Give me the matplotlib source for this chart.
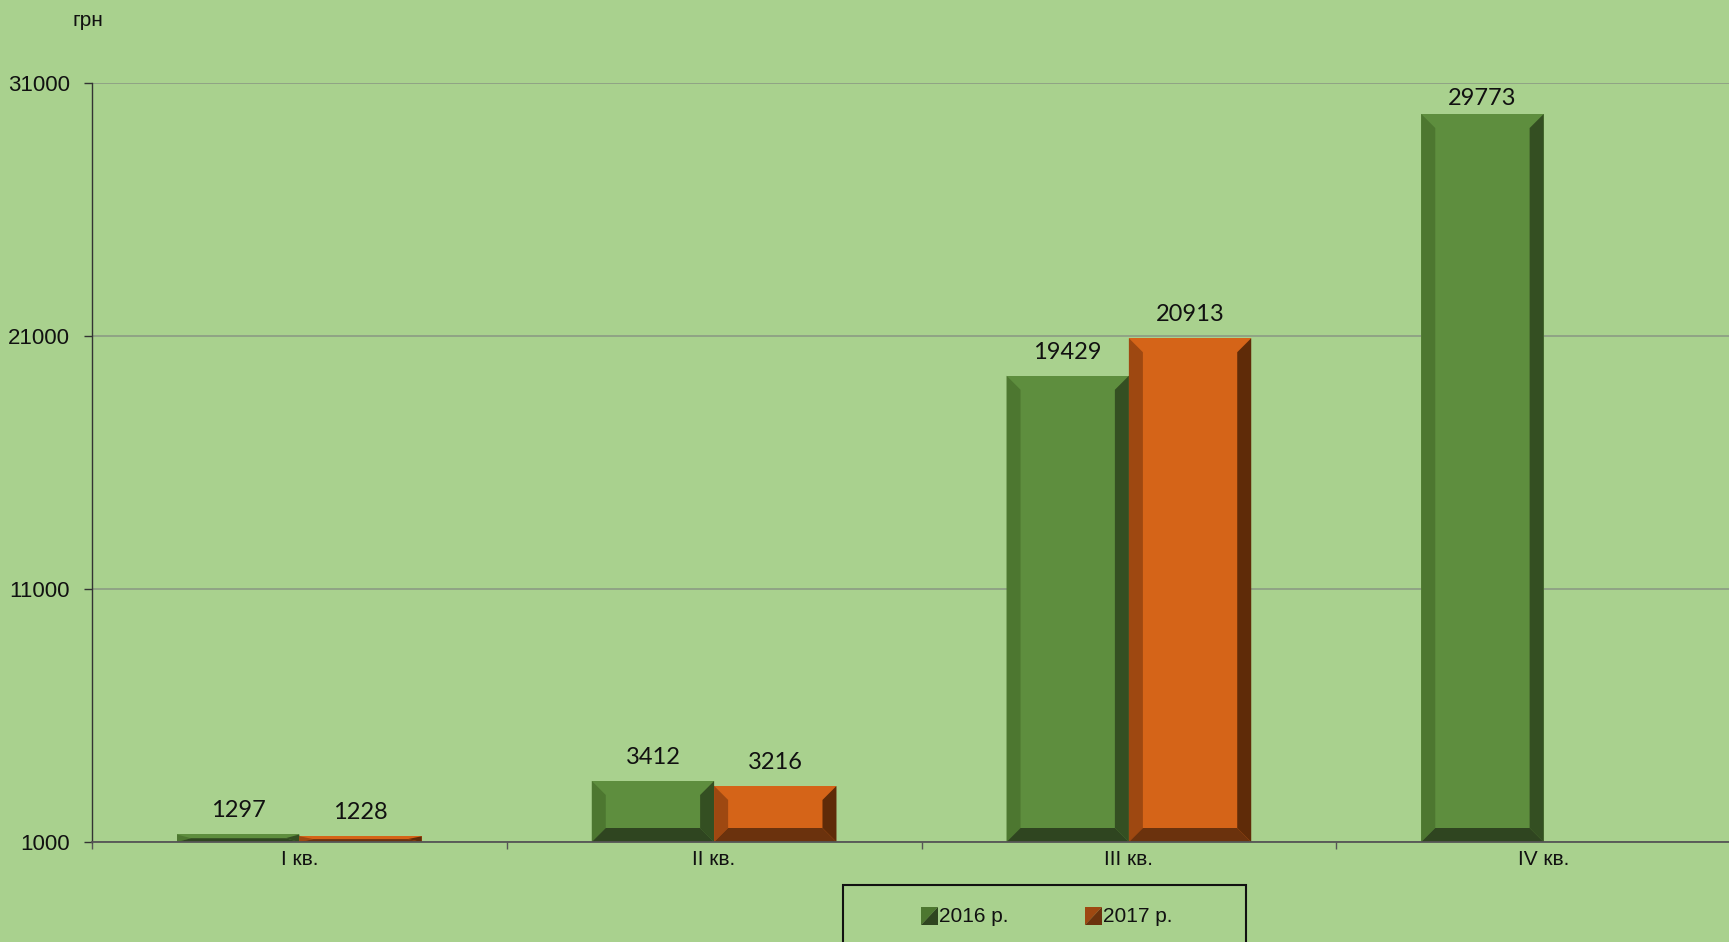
"""
Quarterly amounts (грн) for 2016 and 2017, bevelled bars in the Excel style.
"""
from matplotlib import pyplot as plt
from matplotlib.patches import Polygon, Rectangle

QUARTERS = ["I кв.", "II кв.", "III кв.", "IV кв."]
VALUES_2016 = [1297, 3412, 19429, 29773]
VALUES_2017 = [1228, 3216, 20913, None]
SERIES_NAMES = ["2016 р.", "2017 р."]
Y_TICKS = [1000, 11000, 21000, 31000]
Y_MIN, Y_MAX = 1000, 31000
UNIT_LABEL = "грн"

BACKGROUND = "#A9D18E"
GREEN = {"face": "#5E8E3E", "left": "#4D7730", "right": "#344F22", "bottom": "#2F4520"}
ORANGE = {"face": "#D56418", "left": "#9E4811", "right": "#5F2B08", "bottom": "#6B320D"}

W, H, DPI = 1729, 942, 100
# axes box in pixels (left, top, bottom); the right edge runs past the figure
AX_LEFT, AX_TOP, AX_BOTTOM = 92, 83, 842
CAT_PX = 414.75
BEVEL_PX = 14
BAR_WIDTH = 0.295


def px(x, y):
    """Pixel position -> figure fraction."""
    return x / W, 1 - y / H


def draw_bar(ax, x0, x1, y0, y1, colors, dx, dy):
    """Draw one bar with a bevelled edge."""
    ax.bar(x0, y1 - y0, width=x1 - x0, bottom=y0, align="edge",
           color=colors["face"], linewidth=0, zorder=3)
    bx = min(dx, (x1 - x0) / 2)
    by = min(dy, (y1 - y0) / 2)
    sides = [
        ("left", [(x0, y0), (x0, y1), (x0 + bx, y1 - by), (x0 + bx, y0 + by)]),
        ("right", [(x1, y0), (x1, y1), (x1 - bx, y1 - by), (x1 - bx, y0 + by)]),
        ("bottom", [(x0, y0), (x1, y0), (x1 - bx, y0 + by), (x0 + bx, y0 + by)]),
    ]
    for key, pts in sides:
        ax.add_patch(Polygon(pts, closed=True, facecolor=colors[key],
                             edgecolor="none", zorder=4))


fig = plt.figure(figsize=(W / DPI, H / DPI), dpi=DPI, facecolor=BACKGROUND)
ax_w = 4 * CAT_PX
ax = fig.add_axes([AX_LEFT / W, 1 - AX_BOTTOM / H, ax_w / W,
                   (AX_BOTTOM - AX_TOP) / H])
ax.set_facecolor(BACKGROUND)
ax.set_xlim(0, 4)
ax.set_ylim(Y_MIN, Y_MAX)

px_per_y = (AX_BOTTOM - AX_TOP) / (Y_MAX - Y_MIN)
dx = BEVEL_PX / CAT_PX
dy = BEVEL_PX / px_per_y

for i, (v16, v17) in enumerate(zip(VALUES_2016, VALUES_2017)):
    center = i + 0.5
    for value, colors, x0 in ((v16, GREEN, center - BAR_WIDTH),
                              (v17, ORANGE, center)):
        if value is None:
            continue
        draw_bar(ax, x0, x0 + BAR_WIDTH, Y_MIN, value, colors, dx, dy)
        gap_px = (Y_MAX - value) * px_per_y
        off_px = min(17, gap_px - 17 - 5)
        ax.annotate(str(value), xy=(x0 + BAR_WIDTH / 2, value),
                    xytext=(0, off_px * 72 / DPI), textcoords="offset points",
                    ha="center", va="baseline", fontsize=17, family="Lato",
                    color="#111111", zorder=5)

for spine in ("top", "right"):
    ax.spines[spine].set_visible(False)
ax.spines["left"].set_color("#333333")
ax.spines["left"].set_linewidth(1.0)
ax.spines["bottom"].set_color("#555555")
ax.spines["bottom"].set_linewidth(1.3)
ax.spines["bottom"].set_zorder(6)

ax.set_yticks(Y_TICKS)
ax.set_yticklabels([str(t) for t in Y_TICKS], fontsize=16,
                   family="Liberation Sans", color="#111111")
ax.tick_params(axis="y", length=6, width=1, color="#333333", pad=10)
ax.grid(axis="y", color="#8C9C84", linewidth=1.2, zorder=1)
ax.set_axisbelow(True)

ax.set_xticks(range(5))
ax.set_xticklabels([])
ax.tick_params(axis="x", which="major", length=5, width=1, color="#555555")
ax.set_xticks([i + 0.5 for i in range(4)], minor=True)
ax.set_xticklabels(QUARTERS, minor=True, fontsize=15, family="Liberation Sans",
                   color="#111111")
ax.tick_params(axis="x", which="minor", length=0, pad=6)

fig.text(*px(88, 21), UNIT_LABEL, fontsize=15, family="Liberation Sans",
         ha="center", va="center", color="#111111")

# legend box at the bottom, cut by the figure edge
lx0, ly0 = px(843, 885)
lx1, _ = px(1246, 885)
fig.patches.append(Rectangle((lx0, -0.02), lx1 - lx0, ly0 + 0.02,
                             transform=fig.transFigure, facecolor="none",
                             edgecolor="#111111", linewidth=1.5))
for name, colors, sx in zip(SERIES_NAMES, (GREEN, ORANGE), (921, 1085)):
    x0, y1 = px(sx, 907)
    x1, y0 = px(sx + 17, 925)
    fig.patches.append(Polygon([(x0, y1), (x1, y1), (x0, y0)], closed=True,
                               transform=fig.transFigure,
                               facecolor=colors["left"], edgecolor="none"))
    fig.patches.append(Polygon([(x1, y1), (x1, y0), (x0, y0)], closed=True,
                               transform=fig.transFigure,
                               facecolor=colors["bottom"], edgecolor="none"))
    fig.text(*px(sx + 18, 916), name, fontsize=15, family="Liberation Sans",
             ha="left", va="center", color="#111111")

fig.savefig("out.png", dpi=DPI, facecolor=BACKGROUND)
